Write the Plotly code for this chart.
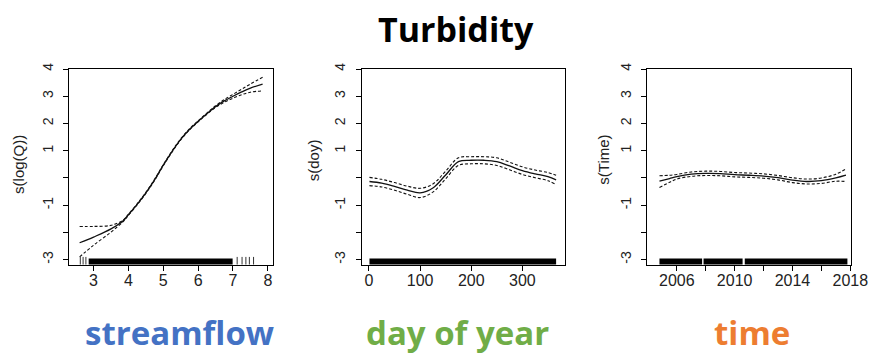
import plotly.graph_objects as go

# ---- data ----
q_x = [2.6, 3.0, 3.5, 3.85, 4.0, 4.25, 4.5, 4.75, 5.0, 5.25, 5.5, 5.75, 6.0, 6.25, 6.5, 6.75, 7.0, 7.25, 7.5, 7.85]
q_fit = [-2.38, -2.17, -1.87, -1.57, -1.35, -0.97, -0.55, -0.07, 0.47, 0.97, 1.42, 1.78, 2.08, 2.36, 2.62, 2.83, 3.00, 3.16, 3.30, 3.45]
q_up = [-1.78, -1.78, -1.74, -1.55, -1.33, -0.95, -0.53, -0.05, 0.49, 0.99, 1.44, 1.80, 2.10, 2.38, 2.65, 2.88, 3.07, 3.26, 3.45, 3.70]
q_lo = [-2.90, -2.47, -1.99, -1.60, -1.37, -0.99, -0.57, -0.09, 0.45, 0.95, 1.40, 1.76, 2.06, 2.34, 2.59, 2.78, 2.93, 3.06, 3.15, 3.20]
q_rug_dense = [2.86, 6.99]
q_rug_sparse = [2.62, 2.70, 2.78, 7.12, 7.26, 7.37, 7.47, 7.59]

d_x = [1, 25, 50, 75, 100, 125, 150, 175, 200, 225, 250, 275, 300, 325, 350, 366]
d_fit = [-0.13, -0.19, -0.31, -0.45, -0.55, -0.37, 0.11, 0.60, 0.65, 0.65, 0.60, 0.44, 0.27, 0.15, 0.05, -0.07]
d_up = [0.02, -0.05, -0.17, -0.30, -0.38, -0.22, 0.25, 0.74, 0.78, 0.78, 0.74, 0.58, 0.41, 0.29, 0.20, 0.10]
d_lo = [-0.28, -0.33, -0.45, -0.60, -0.72, -0.52, -0.03, 0.46, 0.52, 0.52, 0.46, 0.30, 0.13, 0.01, -0.10, -0.24]
d_rug_dense = [1, 366]

t_x = [2004.8, 2005.5, 2006, 2007, 2008, 2009, 2010, 2011, 2012, 2013, 2014, 2015, 2016, 2017, 2017.7]
t_fit = [-0.12, -0.02, 0.05, 0.14, 0.17, 0.16, 0.12, 0.10, 0.07, 0.01, -0.08, -0.13, -0.10, 0.00, 0.10]
t_up = [0.08, 0.10, 0.13, 0.22, 0.25, 0.24, 0.20, 0.18, 0.15, 0.09, 0.01, -0.04, 0.00, 0.14, 0.33]
t_lo = [-0.35, -0.16, -0.04, 0.06, 0.09, 0.08, 0.04, 0.02, -0.01, -0.07, -0.17, -0.22, -0.20, -0.12, -0.13]
t_rug_segments = [[2004.8, 2007.75], [2007.85, 2010.55], [2010.7, 2017.8]]

y_ticks = [-3, -2, -1, 0, 1, 2, 3, 4]
y_ticktext = ["-3", "", "-1", "", "1", "2", "3", "4"]
q_ticks = [3, 4, 5, 6, 7, 8]
d_ticks = [0, 100, 200, 300]
t_ticks = [2006, 2008, 2010, 2012, 2014, 2016, 2018]
t_ticktext = ["2006", "", "2010", "", "2014", "", "2018"]

y_titles = ["s(log(Q))", "s(doy)", "s(Time)"]
bottom_labels = ["streamflow", "day of year", "time"]
bottom_colors = ["#4472C4", "#70AD47", "#ED7D31"]
main_title = "Turbidity"

# ---- figure ----
W, H = 895, 354
fig = go.Figure()

RUG_Y = -3.08
line_col = "#111111"

def add_curves(xs, fit, up, lo, xa, ya):
    fig.add_trace(go.Scatter(x=xs, y=fit, mode="lines",
                             line=dict(color=line_col, width=1.3, shape="spline", smoothing=1.0),
                             xaxis=xa, yaxis=ya, showlegend=False, hoverinfo="skip"))
    for s in (up, lo):
        fig.add_trace(go.Scatter(x=xs, y=s, mode="lines",
                                 line=dict(color=line_col, width=1.1, dash="3px,2px", shape="spline", smoothing=1.0),
                                 xaxis=xa, yaxis=ya, showlegend=False, hoverinfo="skip"))

def add_rug_segment(seg, xa, ya):
    fig.add_trace(go.Scatter(x=seg, y=[RUG_Y] * len(seg), mode="lines",
                             line=dict(color="black", width=6.5), xaxis=xa, yaxis=ya,
                             showlegend=False, hoverinfo="skip"))

add_curves(q_x, q_fit, q_up, q_lo, "x", "y")
add_rug_segment(q_rug_dense, "x", "y")
fig.add_trace(go.Scatter(x=q_rug_sparse, y=[RUG_Y] * len(q_rug_sparse), mode="markers",
                         marker=dict(symbol="line-ns", size=7, line=dict(color="#333", width=1)),
                         xaxis="x", yaxis="y", showlegend=False, hoverinfo="skip"))

add_curves(d_x, d_fit, d_up, d_lo, "x2", "y2")
add_rug_segment(d_rug_dense, "x2", "y2")

add_curves(t_x, t_fit, t_up, t_lo, "x3", "y3")
for seg in t_rug_segments:
    add_rug_segment(seg, "x3", "y3")

# panel pixel boxes (left, right)
boxes = [(70.5, 278), (369, 576), (660, 867.5)]
top_px, bot_px = 64, 263
ydom = [(H - bot_px) / H, (H - top_px) / H]

xtickfont = dict(family="Liberation Sans, Arial", size=16, color="#222")
ytickfont = dict(family="Liberation Sans, Arial", size=14, color="#222")
common_x = dict(showline=True, mirror=True, linecolor="black", linewidth=1, ticks="outside",
                ticklen=5, tickcolor="black", showgrid=False, zeroline=False, tickfont=xtickfont,
                ticklabelstandoff=-4)
common_y = dict(showline=True, mirror=True, linecolor="black", linewidth=1, ticks="outside",
                ticklen=5, tickcolor="black", showgrid=False, zeroline=False, tickfont=ytickfont,
                range=[-3.18, 4.005], tickmode="array", tickvals=y_ticks, ticktext=y_ticktext,
                tickangle=-90, ticklabelstandoff=5)

x_ranges = [[2.30, 8.14], [-13.6, 383.5], [2003.97, 2018.05]]
x_tickvals = [q_ticks, d_ticks, t_ticks]
x_ticktexts = [[str(v) for v in q_ticks], [str(v) for v in d_ticks], t_ticktext]

layout = dict(width=W, height=H, autosize=False, margin=dict(l=0, r=0, t=0, b=0),
              paper_bgcolor="white", plot_bgcolor="white")
for i in range(3):
    sx = "" if i == 0 else str(i + 1)
    l, r = boxes[i]
    layout["xaxis" + sx] = dict(common_x, domain=[l / W, r / W], range=x_ranges[i],
                                tickmode="array", tickvals=x_tickvals[i], ticktext=x_ticktexts[i],
                                anchor="y" + sx)
    layout["yaxis" + sx] = dict(common_y, domain=ydom, anchor="x" + sx)
fig.update_layout(**layout)

annotations = []
ytitle_pos = [(19, 161), (319, 157), (615, 156)]
for txt, (px, py) in zip(y_titles, ytitle_pos):
    annotations.append(dict(text=txt, x=px / W, y=1 - py / H, xref="paper", yref="paper",
                            showarrow=False, textangle=-90, xanchor="center", yanchor="middle",
                            font=dict(family="Liberation Sans, Arial", size=15, color="#222")))
bottom_pos = [182.5, 466, 767]
for txt, col, px in zip(bottom_labels, bottom_colors, bottom_pos):
    annotations.append(dict(text=txt, x=px / W, y=1 - 332 / H, xref="paper", yref="paper",
                            showarrow=False, xanchor="center", yanchor="middle",
                            font=dict(family="Open Sans", size=33, color=col, weight=700)))
annotations.append(dict(text=main_title, x=465 / W, y=1 - 23 / H, xref="paper", yref="paper",
                        showarrow=False, xanchor="center", yanchor="middle",
                        font=dict(family="Open Sans", size=34, color="black", weight=700)))
fig.update_layout(annotations=annotations)

fig.write_html("out.html", config={"displayModeBar": False},
               post_script="document.body.style.margin='0';document.body.style.overflow='hidden';")
